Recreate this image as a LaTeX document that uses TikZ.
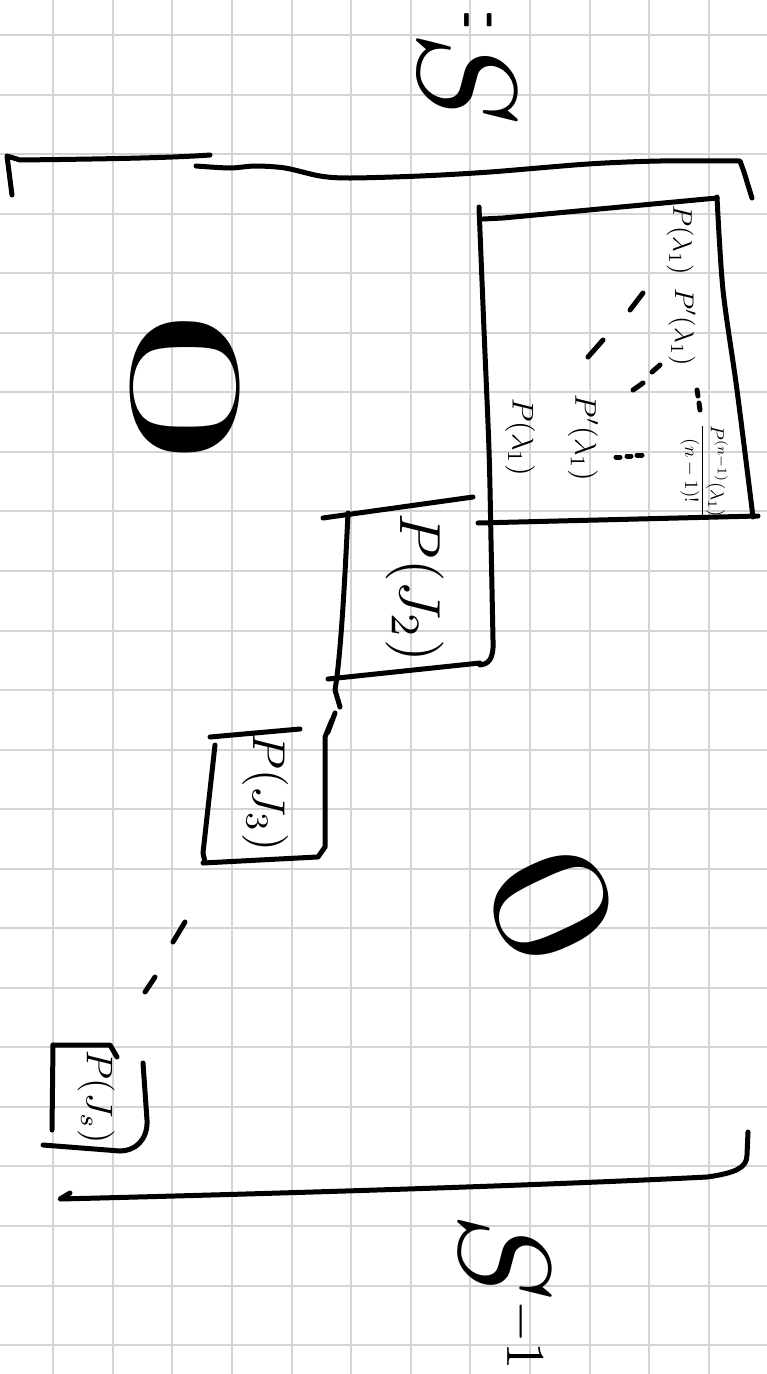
\documentclass[tikz,border=0pt]{standalone}
\usepackage{graphicx}
\begin{document}
\begin{tikzpicture}[x=1pt,y=-1pt,
  ink/.style={line width=5pt,line cap=round,line join=round},
  gridline/.style={draw=black!17,line width=2pt},
  handtext/.style={rotate=-90,inner sep=0pt},
  fs/.style={scale={#1/10}}]
\useasboundingbox (0,0) rectangle (767,1374);
\fill[white] (0,0) rectangle (767,1374);
% grid paper
\foreach \i in {0,...,11} \draw[gridline] ({53+59.64*\i},0) -- ({53+59.64*\i},1374);
\foreach \j in {0,...,22} \draw[gridline] (0,{35+59.55*\j}) -- (767,{35+59.55*\j});

% "=" and S
\node[handtext,fs=90] (eq) at (470,20) {\scalebox{0.22}[1.3]{$=$}};
\node[handtext,fs=140] (S) at (467,78) {$S$};

% top bracket
\draw[ink] (12,195) -- (7,156) -- (20,160) .. controls (100,159) and (170,158) .. (210,155);
\draw[ink] plot[smooth] coordinates {(196,166) (230,168) (255,166) (285,168) (320,176) (350,178) (420,176) (490,172) (588,164) (660,161) (740,161)} -- (744,172) -- (752,198);

% big block J1
\draw[ink] (483,219) -- (503,218) -- (717,198);
\draw[ink] plot[smooth] coordinates {(479,207) (484,330) (489,450) (491,540) (493,640)} .. controls (494,660) and (488,664) .. (480,665);
\draw[ink] plot[smooth] coordinates {(717,197) (723,290) (737,390) (753,517)};
\draw[ink] (478,523) -- (758,516);

\node[handtext,fs=27] (p11) at (680,240) {$P(\lambda_1)$};
\node[handtext,fs=27] (pd1) at (682,327) {$P'(\lambda_1)$};
\node[handtext,fs=30] (pd2) at (583,438) {$P'(\lambda_1)$};
\node[handtext,fs=30] (p12) at (520,437) {$P(\lambda_1)$};
\node[handtext,fs=19] (frac) at (704,471) {$\displaystyle\frac{P^{(n-1)}(\lambda_1)}{(n-1)!}$};

% dots inside J1
\draw[ink] (630,310) -- (643,293);
\draw[ink] (588,357) -- (603,340);
\draw[ink] (652,372) -- (660,365);
\draw[ink] (633,390) -- (643,383);
\draw[ink] (697,390) -- (698,396);
\draw[ink] (699,403) -- (700,410);
\draw[ink] (616,457) -- (620,457);
\draw[ink] (627,456) -- (631,456);
\draw[ink] (637,455) -- (642,455);

% block J2
\draw[ink] (323,518) -- (473,497);
\draw[ink] (348,513) .. controls (344,600) and (340,660) .. (335,690) -- (340,707);
\draw[ink] (328,679) -- (480,663);
\node[handtext,fs=58] (pj2) at (415,588) {$P(J_2)$};

\draw[ink] (335,713) -- (328,732);

% block J3
\draw[ink] (210,737) -- (300,729);
\draw[ink] (215,745) -- (203,853) -- (205,862);
\draw[ink] (203,863) -- (317,857);
\draw[ink] (332,720) -- (325,737) -- (325,847) -- (318,857);
\node[handtext,fs=46] (pj3) at (265,792) {$P(J_3)$};

\draw[ink] (185,922) -- (173,942);
\draw[ink] (155,977) -- (145,992);

% block Js
\draw[ink] (53,1045) -- (110,1045) -- (117,1057);
\draw[ink] (53,1045) -- (52,1130);
\draw[ink] (143,1063) -- (147,1120) .. controls (148,1140) and (135,1151) .. (120,1151) -- (43,1145);
\node[handtext,fs=37] (pjs) at (96,1097) {$P(J_s)$};

% zeros
\node[handtext,fs=160] (z1) at (185,387) {\scalebox{1.95}[1]{0}};
\node[rotate=-65,inner sep=0pt,fs=170] (z2) at (552,906) {\scalebox{1.25}[1]{0}};

% bottom bracket
\draw[ink] (70,1193) -- (60,1199) .. controls (300,1193) and (550,1185) .. (707,1177) .. controls (735,1173) and (747,1168) .. (747,1155) -- (748,1132);

% S^{-1}
\node[handtext,fs=130] (Sinv) at (505,1295) {$S^{\scalebox{0.42}{$-1$}}$};
\end{tikzpicture}
\end{document}
